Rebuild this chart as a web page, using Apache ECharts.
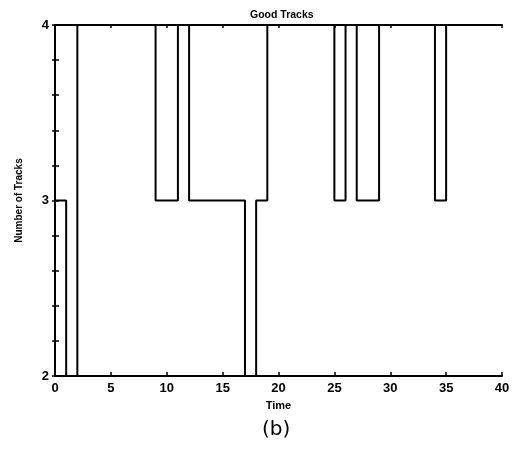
<!DOCTYPE html>
<html>
<head>
<meta charset="utf-8">
<script src="https://cdn.jsdelivr.net/npm/echarts@6/dist/echarts.min.js"></script>
<style>html,body{margin:0;padding:0;background:#fff}#c{width:515px;height:449px}</style>
</head>
<body>
<div id="c"></div>
<script>
var times = [0, 1, 2, 9, 11, 12, 17, 18, 19, 25, 26, 27, 29, 34, 35, 40];
var tracks = [3, 2, 4, 3, 4, 3, 2, 3, 4, 3, 4, 3, 4, 3, 4, 4];
var xTicks = [0, 5, 10, 15, 20, 25, 30, 35, 40];
var yTicks = [2, 3, 4];

var chart = echarts.init(document.getElementById('c'));
var pts = times.map(function (t, i) { return [t, tracks[i]]; });
var fontFam = '"Liberation Sans", Arial, sans-serif';
function yFmt(v) { return yTicks.some(function (t) { return Math.abs(t - v) < 1e-6; }) ? String(Math.round(v)) : ''; }
function xFmt(v) { return xTicks.indexOf(v) >= 0 ? String(v) : ''; }
var axLine = { show: true, lineStyle: { color: '#000', width: 2 } };
chart.setOption({
  animation: false,
  backgroundColor: '#fff',
  title: [{
    text: 'Good Tracks', left: 245, top: 5,
    textStyle: { fontFamily: fontFam, fontSize: 10.5, fontWeight: 'bold', color: '#000' }
  }, {
    text: '(b)', left: 257, top: 415,
    textStyle: { fontFamily: '"DejaVu Sans", sans-serif', fontSize: 20, fontWeight: 'normal', color: '#000' }
  }],
  grid: { left: 55, right: 13, top: 25, bottom: 73 },
  xAxis: [{
    type: 'value', min: 0, max: 40, interval: 5, position: 'bottom',
    name: 'Time', nameLocation: 'middle', nameGap: 24,
    nameTextStyle: { fontFamily: fontFam, fontSize: 11, fontWeight: 'bold', color: '#000' },
    axisLine: axLine,
    axisTick: { show: true, inside: true, length: 4, lineStyle: { color: '#000', width: 1.5 } },
    axisLabel: { formatter: xFmt, margin: 6, fontFamily: fontFam, fontSize: 13, fontWeight: 'bold', color: '#000' },
    splitLine: { show: false }
  }, {
    type: 'value', min: 0, max: 40, interval: 5, position: 'top',
    axisLine: axLine,
    axisTick: { show: true, inside: true, length: 3, lineStyle: { color: '#000', width: 1.5 } },
    axisLabel: { show: false }, splitLine: { show: false }
  }],
  yAxis: [{
    type: 'value', min: 2, max: 4, interval: 0.2, position: 'left',
    name: 'Number of Tracks', nameLocation: 'middle', nameGap: 31, nameRotate: 90,
    nameTextStyle: { fontFamily: fontFam, fontSize: 10, fontWeight: 'bold', color: '#000' },
    axisLine: axLine,
    axisTick: { show: true, inside: true, length: 4, lineStyle: { color: '#000', width: 1.5 } },
    axisLabel: { formatter: yFmt, margin: 6, fontFamily: fontFam, fontSize: 13, fontWeight: 'bold', color: '#000' },
    splitLine: { show: false }
  }, {
    type: 'value', min: 2, max: 4, interval: 0.2, position: 'right',
    axisLine: axLine,
    axisTick: { show: true, inside: true, length: 3, lineStyle: { color: '#000', width: 1.5 } },
    axisLabel: { show: false }, splitLine: { show: false }
  }],
  series: [{
    type: 'line', step: 'end', data: pts, xAxisIndex: 0, yAxisIndex: 0,
    showSymbol: false, symbol: 'none', clip: false,
    lineStyle: { color: '#000', width: 2 }
  }]
});
</script>
</body>
</html>
